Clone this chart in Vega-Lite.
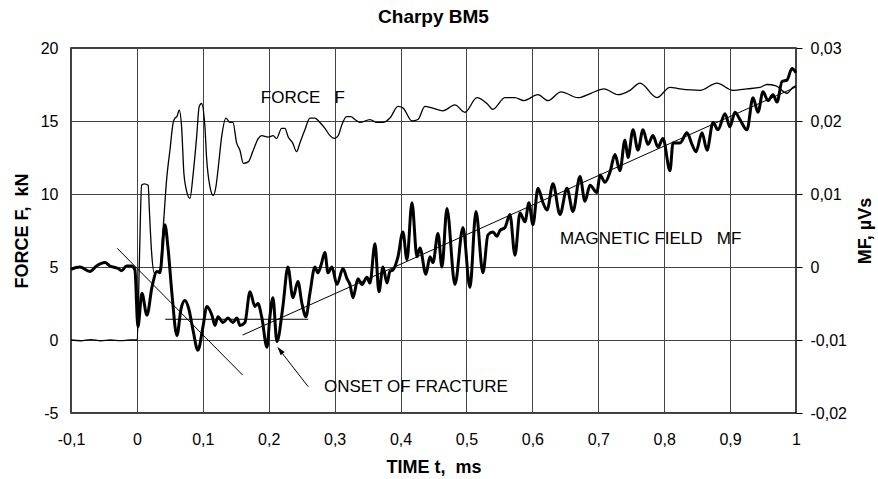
{
"$schema":"https://vega.github.io/schema/vega-lite/v6.json",
"width":725,"height":365,
"autosize":{"type":"none"},
"padding":{"left":71,"top":48,"right":82,"bottom":66},
"background":"white",
"title":{"text":"Charpy BM5","font":"Liberation Sans","fontSize":19,"fontWeight":"bold","anchor":"middle","offset":13,"color":"black"},
"config":{
"locale":{"number":{"decimal":",","thousands":".","grouping":[3],"currency":[""," €"],"minus":"-"}},
"view":{"stroke":"black","strokeWidth":1.5},
"axis":{"labelFont":"Liberation Sans","labelFontSize":16,"labelColor":"black","titleFont":"Liberation Sans","titleFontSize":18,"titleFontWeight":"bold","titleColor":"black","gridColor":"#444","gridOpacity":1,"gridWidth":1,"domain":false,"labelFlush":false}
},
"datasets":{
"force":[
{"t":-0.1,"v":0.0},{"t":-0.085,"v":-0.05},{"t":-0.07,"v":0.02},{"t":-0.055,"v":-0.05},{"t":-0.04,"v":0.0},{"t":-0.025,"v":-0.04},{"t":-0.01,"v":0.0},{"t":0.0005,"v":0.0},
{"t":0.0038,"v":5.5},{"t":0.0071,"v":10.6},{"t":0.0111,"v":10.7},{"t":0.0172,"v":10.6},{"t":0.0187,"v":9.1},{"t":0.0223,"v":6.0},{"t":0.0263,"v":4.6},{"t":0.0349,"v":4.8},
{"t":0.0399,"v":7.7},{"t":0.0451,"v":11.0},{"t":0.0501,"v":13.0},{"t":0.0551,"v":14.9},{"t":0.0577,"v":15.2},{"t":0.0607,"v":15.3},{"t":0.0642,"v":15.75},{"t":0.0678,"v":14.6},
{"t":0.0713,"v":11.4},{"t":0.0744,"v":10.4},{"t":0.0804,"v":9.7},{"t":0.0854,"v":11.4},{"t":0.0906,"v":13.9},{"t":0.0945,"v":16.0},{"t":0.0981,"v":16.2},{"t":0.1032,"v":14.6},
{"t":0.1057,"v":12.5},{"t":0.1108,"v":10.5},{"t":0.1158,"v":9.9},{"t":0.1199,"v":10.5},{"t":0.1234,"v":11.8},{"t":0.1285,"v":13.9},{"t":0.1351,"v":15.2},{"t":0.1411,"v":14.9},
{"t":0.1457,"v":14.9},{"t":0.1513,"v":13.5},{"t":0.1563,"v":13.0},{"t":0.1614,"v":12.1},{"t":0.1689,"v":12.2},{"t":0.1765,"v":13.0},{"t":0.1841,"v":13.8},{"t":0.1892,"v":14.0},
{"t":0.1992,"v":13.9},{"t":0.2068,"v":14.0},{"t":0.2119,"v":13.8},{"t":0.2195,"v":14.5},{"t":0.2246,"v":14.5},{"t":0.2296,"v":13.9},{"t":0.2363,"v":13.5},{"t":0.2423,"v":12.9},
{"t":0.2473,"v":13.5},{"t":0.2549,"v":14.4},{"t":0.2625,"v":15.2},{"t":0.2701,"v":15.2},{"t":0.2777,"v":14.9},{"t":0.2853,"v":14.5},{"t":0.2929,"v":14.0},{"t":0.2994,"v":13.8},
{"t":0.3055,"v":14.0},{"t":0.3106,"v":14.7},{"t":0.3182,"v":15.3},{"t":0.3247,"v":15.3},{"t":0.3308,"v":15.1},{"t":0.3384,"v":14.9},{"t":0.3536,"v":15.1},{"t":0.3642,"v":14.9},
{"t":0.3733,"v":14.9},{"t":0.3839,"v":15.2},{"t":0.3961,"v":16.0},{"t":0.4036,"v":15.9},{"t":0.4173,"v":15.0},{"t":0.4264,"v":15.1},{"t":0.437,"v":16.0},{"t":0.4476,"v":15.9},
{"t":0.4643,"v":15.7},{"t":0.4825,"v":16.1},{"t":0.4977,"v":15.6},{"t":0.5159,"v":16.6},{"t":0.5311,"v":16.2},{"t":0.5402,"v":15.8},{"t":0.5584,"v":16.6},{"t":0.5735,"v":16.6},
{"t":0.5872,"v":16.4},{"t":0.6085,"v":16.8},{"t":0.6237,"v":16.4},{"t":0.6434,"v":17.0},{"t":0.6692,"v":16.6},{"t":0.6889,"v":16.9},{"t":0.7086,"v":17.2},{"t":0.7299,"v":16.8},
{"t":0.7481,"v":17.1},{"t":0.7633,"v":17.6},{"t":0.7891,"v":16.6},{"t":0.8088,"v":17.3},{"t":0.824,"v":17.2},{"t":0.8543,"v":17.1},{"t":0.8801,"v":17.6},{"t":0.9044,"v":17.1},
{"t":0.9256,"v":17.2},{"t":0.9453,"v":17.3},{"t":0.956,"v":17.5},{"t":0.9697,"v":17.4},{"t":0.9863,"v":16.9},{"t":0.9954,"v":17.3},{"t":1.0,"v":17.4}
],
"mf":[
{"t":-0.1,"v":-0.00032},{"t":-0.0865,"v":0.0},{"t":-0.0713,"v":-0.0006},{"t":-0.0612,"v":0.00014},{"t":-0.0486,"v":0.0006},{"t":-0.041,"v":0.00014},{"t":-0.0284,"v":-0.0002},{"t":-0.0233,"v":-0.0005},
{"t":-0.0157,"v":0.00014},{"t":-0.008,"v":0.00014},{"t":-0.003,"v":-0.0004},{"t":0.0015,"v":-0.0082},{"t":0.0076,"v":-0.0036},{"t":0.0152,"v":-0.0066},{"t":0.0228,"v":-0.0028},{"t":0.0303,"v":-0.0006},
{"t":0.0349,"v":-0.0008},{"t":0.0425,"v":0.0058},{"t":0.047,"v":0.0028},{"t":0.0531,"v":-0.0036},{"t":0.0607,"v":-0.0094},{"t":0.0668,"v":-0.0058},{"t":0.0728,"v":-0.0046},{"t":0.0789,"v":-0.0058},
{"t":0.085,"v":-0.0086},{"t":0.0926,"v":-0.0114},{"t":0.1002,"v":-0.0082},{"t":0.1062,"v":-0.0054},{"t":0.1138,"v":-0.0066},{"t":0.1184,"v":-0.008},{"t":0.1229,"v":-0.0068},{"t":0.1305,"v":-0.0076},
{"t":0.1381,"v":-0.007},{"t":0.1457,"v":-0.0076},{"t":0.1517,"v":-0.007},{"t":0.1563,"v":-0.008},{"t":0.1639,"v":-0.0076},{"t":0.1715,"v":-0.0034},{"t":0.1791,"v":-0.0054},{"t":0.1836,"v":-0.005},
{"t":0.1897,"v":-0.007},{"t":0.1973,"v":-0.011},{"t":0.2018,"v":-0.0068},{"t":0.2064,"v":-0.0042},{"t":0.2124,"v":-0.0102},{"t":0.2215,"v":-0.0054},{"t":0.2291,"v":0.0},{"t":0.2367,"v":-0.0042},
{"t":0.2443,"v":-0.002},{"t":0.2504,"v":-0.005},{"t":0.2564,"v":-0.0068},{"t":0.2625,"v":-0.0036},{"t":0.2701,"v":0.0},{"t":0.2747,"v":-0.0008},{"t":0.2792,"v":0.0002},{"t":0.2853,"v":0.002},
{"t":0.2898,"v":-0.0008},{"t":0.2959,"v":0.0},{"t":0.3035,"v":-0.0024},{"t":0.3126,"v":-0.0002},{"t":0.3187,"v":-0.0016},{"t":0.3232,"v":-0.0024},{"t":0.3278,"v":-0.0042},{"t":0.3354,"v":-0.0016},
{"t":0.3414,"v":-0.0024},{"t":0.349,"v":-0.0014},{"t":0.3536,"v":-0.0022},{"t":0.3612,"v":0.0032},{"t":0.3672,"v":-0.0034},{"t":0.3733,"v":0.0},{"t":0.3794,"v":-0.0022},{"t":0.3839,"v":-0.0006},
{"t":0.3885,"v":-0.0004},{"t":0.3961,"v":0.0014},{"t":0.4036,"v":0.0048},{"t":0.4097,"v":0.001},{"t":0.4173,"v":0.0088},{"t":0.4249,"v":0.0014},{"t":0.4294,"v":0.0026},{"t":0.4385,"v":-0.001},
{"t":0.4446,"v":0.0014},{"t":0.4492,"v":0.0006},{"t":0.4568,"v":0.0046},{"t":0.4628,"v":0.0},{"t":0.4704,"v":0.008},{"t":0.4825,"v":-0.0024},{"t":0.4947,"v":0.0054},{"t":0.5053,"v":-0.0028},
{"t":0.5144,"v":0.0076},{"t":0.525,"v":-0.0008},{"t":0.5326,"v":0.0044},{"t":0.5402,"v":0.0048},{"t":0.5463,"v":0.0042},{"t":0.5508,"v":0.005},{"t":0.5584,"v":0.0054},{"t":0.566,"v":0.0072},
{"t":0.5736,"v":0.0016},{"t":0.5812,"v":0.0074},{"t":0.5888,"v":0.0062},{"t":0.5948,"v":0.0088},{"t":0.6009,"v":0.0058},{"t":0.6085,"v":0.0108},{"t":0.6161,"v":0.0088},{"t":0.6222,"v":0.0078},
{"t":0.6313,"v":0.0114},{"t":0.6419,"v":0.0072},{"t":0.6525,"v":0.0108},{"t":0.6616,"v":0.0076},{"t":0.6722,"v":0.0124},{"t":0.6798,"v":0.009},{"t":0.6874,"v":0.0112},{"t":0.698,"v":0.0102},
{"t":0.7026,"v":0.0126},{"t":0.7102,"v":0.0116},{"t":0.7178,"v":0.013},{"t":0.7253,"v":0.0154},{"t":0.7329,"v":0.0132},{"t":0.7405,"v":0.0174},{"t":0.7451,"v":0.015},{"t":0.7527,"v":0.0188},
{"t":0.7602,"v":0.016},{"t":0.7678,"v":0.0188},{"t":0.7754,"v":0.0168},{"t":0.783,"v":0.018},{"t":0.7906,"v":0.0164},{"t":0.7982,"v":0.0176},{"t":0.8088,"v":0.0132},{"t":0.8134,"v":0.017},
{"t":0.824,"v":0.017},{"t":0.8346,"v":0.0184},{"t":0.8422,"v":0.0168},{"t":0.8483,"v":0.0158},{"t":0.8574,"v":0.0184},{"t":0.865,"v":0.016},{"t":0.8741,"v":0.0198},{"t":0.8816,"v":0.0188},
{"t":0.8923,"v":0.021},{"t":0.8998,"v":0.0192},{"t":0.9074,"v":0.0212},{"t":0.915,"v":0.0202},{"t":0.9256,"v":0.0188},{"t":0.9347,"v":0.0232},{"t":0.9423,"v":0.0212},{"t":0.9499,"v":0.024},
{"t":0.9575,"v":0.0228},{"t":0.9651,"v":0.0236},{"t":0.9712,"v":0.0226},{"t":0.9788,"v":0.0254},{"t":0.9863,"v":0.0256},{"t":0.9939,"v":0.0272},{"t":1.0,"v":0.0266}
],
"guides":[
{"t":-0.0299,"v":0.00256,"g":"tangent"},{"t":0.1604,"v":-0.0148,"g":"tangent"},
{"t":0.043,"v":-0.00716,"g":"level"},{"t":0.26,"v":-0.00716,"g":"level"},
{"t":0.1604,"v":-0.00932,"g":"trend"},{"t":1.0,"v":0.02466,"g":"trend"},
{"t":0.26,"v":-0.0164,"g":"arrow"},{"t":0.2155,"v":-0.01124,"g":"arrow"}
],
"head":[{"t":0.2181,"v":-0.01151}],
"ftext":[{"t":0.188,"v":16.6,"label":"FORCE\u00a0\u00a0\u00a0F"}],
"mtext":[{"t":0.6419,"v":0.00377,"label":"MAGNETIC FIELD\u00a0\u00a0\u00a0MF"},{"t":0.2838,"v":-0.0165,"label":"ONSET OF FRACTURE"}]
},
"layer":[
{"encoding":{
"x":{"field":"t","type":"quantitative","scale":{"domain":[-0.1,1],"nice":false,"zero":false},"axis":{"values":[-0.1,0,0.1,0.2,0.3,0.4,0.5,0.6,0.7,0.8,0.9,1],"format":".1~f","title":"TIME t,\u00a0 ms","grid":true,"ticks":false,"tickSize":0,"labelPadding":18,"titlePadding":11}},
"y":{"field":"v","type":"quantitative","scale":{"domain":[-5,20],"nice":false,"zero":false},"axis":{"orient":"left","values":[-5,0,5,10,15,20],"format":"d","title":"FORCE F,\u00a0 kN","grid":true,"ticks":false,"tickSize":0,"labelPadding":13,"titlePadding":9}}
},
"layer":[
{"data":{"name":"force"},"mark":{"type":"line","color":"black","strokeWidth":1.3,"strokeJoin":"round","interpolate":"monotone"}},
{"data":{"name":"ftext"},"mark":{"type":"text","align":"left","baseline":"middle","font":"Liberation Sans","fontSize":17,"color":"black"},"encoding":{"text":{"field":"label"}}}
]},
{"encoding":{
"x":{"field":"t","type":"quantitative","scale":{"domain":[-0.1,1],"nice":false,"zero":false},"axis":{"values":[-0.1,0,0.1,0.2,0.3,0.4,0.5,0.6,0.7,0.8,0.9,1],"format":".1~f","title":"TIME t,\u00a0 ms","grid":true,"ticks":false,"tickSize":0,"labelPadding":18,"titlePadding":11}},
"y":{"field":"v","type":"quantitative","scale":{"domain":[-0.02,0.03],"nice":false,"zero":false},"axis":{"orient":"right","values":[-0.02,-0.01,0,0.01,0.02,0.03],"format":".2~f","title":"MF, µVs","grid":false,"ticks":true,"tickSize":6,"tickColor":"black","tickWidth":1,"labelPadding":8,"titlePadding":10,"titleAngle":270,"titleBaseline":"top"}}
},
"layer":[
{"data":{"name":"mf"},"mark":{"type":"line","color":"black","strokeWidth":3,"strokeJoin":"round","interpolate":"monotone"}},
{"data":{"name":"guides"},"mark":{"type":"line","color":"black","strokeWidth":1},"encoding":{"detail":{"field":"g"}}},
{"data":{"name":"head"},"mark":{"type":"point","shape":"M0,-1L0.45,0.6L-0.45,0.6Z","filled":true,"color":"black","opacity":1,"size":121,"angle":322}},
{"data":{"name":"mtext"},"mark":{"type":"text","align":"left","baseline":"middle","font":"Liberation Sans","fontSize":17,"color":"black"},"encoding":{"text":{"field":"label"}}}
]}
],
"resolve":{"scale":{"y":"independent"},"axis":{"y":"independent"}}
}
